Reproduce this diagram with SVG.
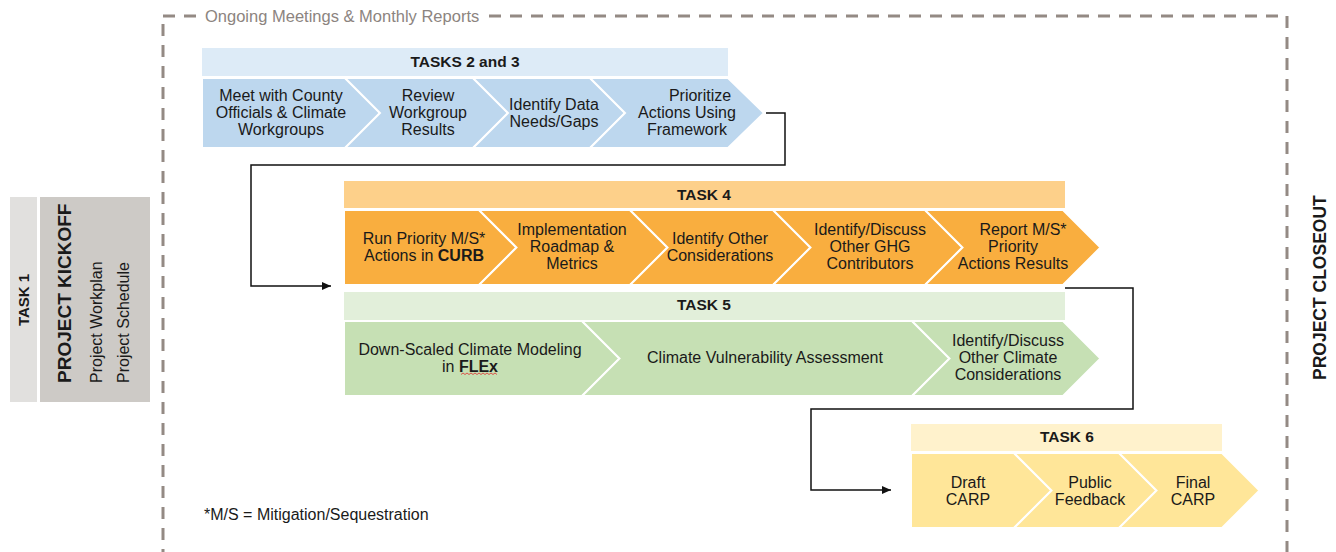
<svg xmlns="http://www.w3.org/2000/svg" width="1336" height="552" viewBox="0 0 1336 552">
<style>
text{font-family:"Liberation Sans",Arial,sans-serif;fill:#1a1a1a}
.t{font-size:16px;text-anchor:middle}
.h{font-size:15.5px;font-weight:bold;text-anchor:middle}
.b{font-weight:bold}
.chev{stroke:#fff;stroke-width:2}
.blue{fill:#bdd7ee}.blueh{fill:#ddebf7}
.or{fill:#f9ae3f}.orh{fill:#fdd08a}
.gr{fill:#c6e0b4}.grh{fill:#e2efda}
.ye{fill:#ffe699}.yeh{fill:#fff2cc}
.dash{fill:none;stroke:#948a84;stroke-width:3;stroke-dasharray:12 9}
.conn{fill:none;stroke:#111;stroke-width:1.5}
</style>
<defs>
<marker id="arr" markerUnits="userSpaceOnUse" markerWidth="9" markerHeight="8" refX="9" refY="4" orient="auto">
<path d="M0,0 L9,4 L0,8 z" fill="#111"/>
</marker>
</defs>

<g id="frame">
<path class="dash" d="M163,16 H196"/>
<path class="dash" d="M489,16 H1287 V552"/>
<path class="dash" d="M163,24 V552"/>
<text x="205" y="22" style="font-size:16.5px;fill:#8c8480">Ongoing Meetings &amp; Monthly Reports</text>
</g>

<g id="task1">
<rect x="10" y="197" width="27" height="205" fill="#e1e0de"/>
<rect x="40" y="197" width="110" height="205" fill="#cdcac6"/>
<text transform="translate(29,300) rotate(-90)" class="h" style="font-size:15px">TASK 1</text>
<text transform="translate(71,383) rotate(-90)" style="font-size:19px;font-weight:bold">PROJECT KICKOFF</text>
<text transform="translate(102,383) rotate(-90)" style="font-size:16px">Project Workplan</text>
<text transform="translate(129,383) rotate(-90)" style="font-size:16px">Project Schedule</text>
</g>

<g id="tasks23">
<rect class="blueh" x="202" y="48" width="526" height="28"/>
<text class="h" x="465" y="67">TASKS 2 and 3</text>
<polygon class="chev blue" points="202,78 345,78 380,113 345,148 202,148"/>
<polygon class="chev blue" points="345,78 473,78 508,113 473,148 345,148 380,113"/>
<polygon class="chev blue" points="473,78 590,78 625,113 590,148 473,148 508,113"/>
<polygon class="chev blue" points="590,78 728,78 764,113 728,148 590,148 625,113"/>
<text class="t" x="281" y="101">Meet with County</text>
<text class="t" x="281" y="118">Officials &amp; Climate</text>
<text class="t" x="281" y="135">Workgroups</text>
<text class="t" x="428" y="101">Review</text>
<text class="t" x="428" y="118">Workgroup</text>
<text class="t" x="428" y="135">Results</text>
<text class="t" x="554" y="110">Identify Data</text>
<text class="t" x="554" y="127">Needs/Gaps</text>
<text class="t" x="700" y="101">Prioritize</text>
<text class="t" x="687" y="118">Actions Using</text>
<text class="t" x="687" y="135">Framework</text>
</g>

<g id="task4">
<rect class="orh" x="344" y="181" width="721" height="27"/>
<text class="h" x="704" y="200">TASK 4</text>
<polygon class="chev or" points="344,210 479,210 516.5,247.5 479,285 344,285"/>
<polygon class="chev or" points="479,210 630,210 667.5,247.5 630,285 479,285 516.5,247.5"/>
<polygon class="chev or" points="630,210 773,210 810.5,247.5 773,285 630,285 667.5,247.5"/>
<polygon class="chev or" points="773,210 925,210 962.5,247.5 925,285 773,285 810.5,247.5"/>
<polygon class="chev or" points="925,210 1063,210 1100.5,247.5 1063,285 925,285 962.5,247.5"/>
<text class="t" x="424" y="244">Run Priority M/S*</text>
<text class="t" x="424" y="261">Actions in <tspan class="b">CURB</tspan></text>
<text class="t" x="572" y="235">Implementation</text>
<text class="t" x="572" y="252">Roadmap &amp;</text>
<text class="t" x="572" y="269">Metrics</text>
<text class="t" x="720" y="244">Identify Other</text>
<text class="t" x="720" y="261">Considerations</text>
<text class="t" x="870" y="235">Identify/Discuss</text>
<text class="t" x="870" y="252">Other GHG</text>
<text class="t" x="870" y="269">Contributors</text>
<text class="t" x="1023" y="235">Report M/S*</text>
<text class="t" x="1013" y="252">Priority</text>
<text class="t" x="1013" y="269">Actions Results</text>
</g>

<g id="task5">
<rect class="grh" x="344" y="292" width="721" height="28"/>
<text class="h" x="704" y="310">TASK 5</text>
<polygon class="chev gr" points="344,321 582,321 619.5,358.5 582,396 344,396"/>
<polygon class="chev gr" points="582,321 912,321 949.5,358.5 912,396 582,396 619.5,358.5"/>
<polygon class="chev gr" points="912,321 1063,321 1100.5,358.5 1063,396 912,396 949.5,358.5"/>
<text class="t" x="470" y="355">Down-Scaled Climate Modeling</text>
<text class="t" x="470" y="372">in <tspan class="b">FLEx</tspan></text>
<path d="M461,374.5 l2,-1.5 l2,1.5 l2,-1.5 l2,1.5 l2,-1.5 l2,1.5 l2,-1.5 l2,1.5 l2,-1.5 l2,1.5 l2,-1.5 l2,1.5 l2,-1.5 l2,1.5 l2,-1.5 l2,1.5 l2,-1.5 l2,1.5" fill="none" stroke="#e03030" stroke-width="0.8"/>
<text class="t" x="765" y="363">Climate Vulnerability Assessment</text>
<text class="t" x="1008" y="346">Identify/Discuss</text>
<text class="t" x="1008" y="363">Other Climate</text>
<text class="t" x="1008" y="380">Considerations</text>
</g>

<g id="task6">
<rect class="yeh" x="911" y="424" width="311" height="27"/>
<text class="h" x="1067" y="442">TASK 6</text>
<polygon class="chev ye" points="911,453 1014,453 1051.5,490.5 1014,528 911,528"/>
<polygon class="chev ye" points="1014,453 1119,453 1156.5,490.5 1119,528 1014,528 1051.5,490.5"/>
<polygon class="chev ye" points="1119,453 1222,453 1259.5,490.5 1222,528 1119,528 1156.5,490.5"/>
<text class="t" x="968" y="488">Draft</text>
<text class="t" x="968" y="505">CARP</text>
<text class="t" x="1090" y="488">Public</text>
<text class="t" x="1090" y="505">Feedback</text>
<text class="t" x="1193" y="488">Final</text>
<text class="t" x="1193" y="505">CARP</text>
</g>

<g id="closeout">
<text transform="translate(1326,380) rotate(-90)" style="font-size:17.5px;font-weight:bold">PROJECT CLOSEOUT</text>
</g>

<g id="note">
<text x="204" y="520" style="font-size:16px">*M/S = Mitigation/Sequestration</text>
</g>

<g id="connectors">
<path class="conn" d="M766,113 H785 V165 H251 V286 H331" marker-end="url(#arr)"/>
<path class="conn" d="M1065,288 H1133 V409 H811 V490 H891" marker-end="url(#arr)"/>
</g>
</svg>
